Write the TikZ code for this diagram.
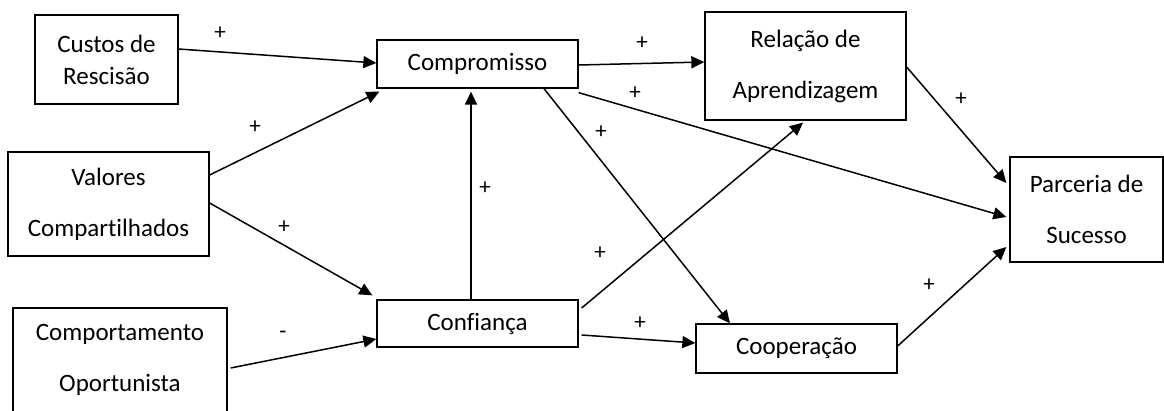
\documentclass[tikz,border=0pt]{standalone}
\usepackage{fontspec}
\setmainfont{Carlito}[Ligatures=NoCommon]
\usetikzlibrary{arrows.meta}

\begin{document}
\begin{tikzpicture}[x=1pt,y=-1pt,
	caixa/.style={draw, line width=1.3pt, inner sep=0pt, align=center, font=\fontsize{25}{51}\selectfont},
	seta/.style={line width=1.5pt, -{Triangle[length=13pt,width=12pt]}},
	sinal/.style={font=\fontsize{23}{23}\selectfont}]
	%\draw[help lines] (0,0) grid[step=100] (1164,410);
	\useasboundingbox (0,0) rectangle (1164,410);
	\node[caixa, minimum width=143pt, minimum height=89pt, font=\fontsize{25}{32}\selectfont] (custos) at (106.5,59.5) {Custos de\\Rescisão};
	\node[caixa, minimum width=201pt, minimum height=104pt] (valores) at (108.5,204) {Valores\\Compartilhados};
	\node[caixa, minimum width=214pt, minimum height=104pt] (comport) at (120,360) {Comportamento\\Oportunista};
	\node[caixa, minimum width=201pt, minimum height=48pt] (comp) at (477.5,64) {Compromisso};
	\node[caixa, minimum width=201pt, minimum height=47pt] (conf) at (477.5,323.5) {Confiança};
	\node[caixa, minimum width=201pt, minimum height=108pt] (rel) at (805.5,66) {Relação de\\Aprendizagem};
	\node[caixa, minimum width=201pt, minimum height=49pt] (coop) at (796.5,348.5) {Cooperação};
	\node[caixa, minimum width=153pt, minimum height=105pt] (parc) at (1086.5,209.5) {Parceria de\\Sucesso};
	% setas
	\draw[seta] ([yshift=10.5pt]custos.east) -- ([yshift=1pt]comp.west);
	\draw[seta] ([yshift=29pt]valores.east) -- ([xshift=3pt,yshift=-3pt]comp.south west);
	\draw[seta] ([yshift=1pt]valores.east) -- ([xshift=-4pt,yshift=4pt]conf.north west);
	\draw[seta] ([xshift=3pt,yshift=-8pt]comport.east) -- ([yshift=-15.5pt]conf.west);
	\draw[seta] ([xshift=-6.5pt]conf.north) -- ([xshift=-6.5pt,yshift=-3pt]comp.south);
	\draw[seta] ([yshift=-1pt]comp.east) -- ([yshift=4pt]rel.west);
	\draw[seta] ([yshift=-4pt]comp.south east) -- ([xshift=-3pt,yshift=-7.5pt]parc.west);
	\draw[seta] ([xshift=66.5pt]comp.south) -- ([xshift=-66.5pt]coop.north);
	\draw[seta] ([xshift=3pt,yshift=15.5pt]conf.east) -- ([xshift=-2.5pt,yshift=-2pt]rel.south);
	\draw[seta] ([xshift=3pt,yshift=-11.5pt]conf.east) -- ([yshift=5.5pt]coop.west);
	\draw[seta] ([yshift=-1pt]rel.east) -- ([xshift=-3pt,yshift=26.5pt]parc.west);
	\draw[seta] ([yshift=2.5pt]coop.east) -- ([xshift=-3pt,yshift=-37.5pt]parc.west);
	% sinais
	\node[sinal] (s1) at (220,33) {+};
	\node[sinal] (s2) at (255,127) {+};
	\node[sinal] (s3) at (284,227) {+};
	\node[sinal] (s4) at (283,335) {-};
	\node[sinal] (s5) at (485,188) {+};
	\node[sinal] (s6) at (642,43) {+};
	\node[sinal] (s7) at (635,93) {+};
	\node[sinal] (s8) at (601,132) {+};
	\node[sinal] (s9) at (600,253) {+};
	\node[sinal] (s10) at (640,323) {+};
	\node[sinal] (s11) at (961,99) {+};
	\node[sinal] (s12) at (929,285) {+};
\end{tikzpicture}
\end{document}
